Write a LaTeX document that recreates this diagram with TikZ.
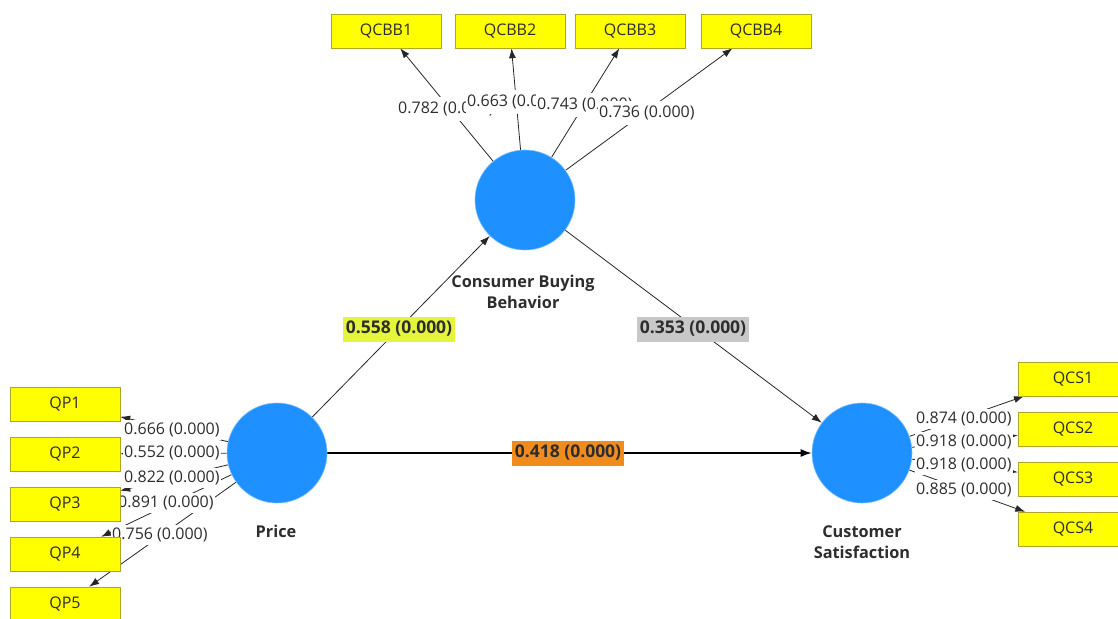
\documentclass[tikz,border=0pt]{standalone}
\usepackage{fontspec}
\setmainfont{Open Sans}
\usetikzlibrary{arrows.meta}
\definecolor{boxyellow}{RGB}{255,255,0}
\definecolor{boxedge}{RGB}{175,165,40}
\definecolor{lvblue}{RGB}{30,144,255}
\definecolor{lvrim}{RGB}{120,190,255}
\definecolor{limec}{RGB}{228,245,60}
\definecolor{grayc}{RGB}{200,200,200}
\definecolor{orangec}{RGB}{240,140,30}
\definecolor{txt}{RGB}{45,45,45}
\pgfdeclarelayer{lines}
\pgfdeclarelayer{labels}
\pgfsetlayers{lines,labels,main}
\begin{document}
\begin{tikzpicture}[x=1pt,y=-1pt,
  ind/.style={draw=boxedge, fill=boxyellow, minimum width=110pt, minimum height=34pt, inner sep=0pt, text=txt, font=\fontsize{16}{18}\selectfont},
  lv/.style={circle, fill=lvblue, draw=lvrim, line width=0.6pt, minimum size=100pt, inner sep=0pt},
  lvname/.style={align=center, text=txt, font=\bfseries\fontsize{16.3}{21}\selectfont},
  load/.style={fill=white, inner xsep=1pt, inner ysep=2.5pt, text=txt, font=\fontsize{16}{18}\selectfont},
  topload/.style={load, inner ysep=4.5pt},
  coef/.style={inner xsep=2.5pt, inner ysep=0pt, minimum height=25pt, text=txt, font=\bfseries\fontsize{17.5}{19}\selectfont},
  arr/.style={-{Latex[length=10pt,width=7pt]}, draw=black!85, line width=0.8pt},
  thickarr/.style={-{Latex[length=11pt,width=8pt]}, draw=black, line width=1.6pt}
]
\useasboundingbox (0,0) rectangle (1118,618);

% latent variables
\node[lv] (cbb) at (525,200) {};
\node[lv] (price) at (277,453) {};
\node[lv] (cs) at (862,453) {};
\node[lvname] (cbbname) at (523,292) {Consumer Buying\\Behavior};
\node[lvname] (pricename) at (276,531) {Price};
\node[lvname] (csname) at (862,542) {Customer\\Satisfaction};

% indicators
\node[ind] (qcbb1) at (386,31) {QCBB1};
\node[ind] (qcbb2) at (510,31) {QCBB2};
\node[ind] (qcbb3) at (630,31) {QCBB3};
\node[ind] (qcbb4) at (756,31) {QCBB4};

\node[ind] (qp1) at (65,404) {QP1};
\node[ind] (qp2) at (65,454) {QP2};
\node[ind] (qp3) at (65,504) {QP3};
\node[ind] (qp4) at (65,554) {QP4};
\node[ind] (qp5) at (65,604) {QP5};

\node[ind] (qcs1) at (1073,379) {QCS1};
\node[ind] (qcs2) at (1073,429) {QCS2};
\node[ind] (qcs3) at (1073,479) {QCS3};
\node[ind] (qcs4) at (1073,529) {QCS4};

\begin{pgfonlayer}{lines}
\draw[arr] (cbb) -- (qcbb1);
\draw[arr] (cbb) -- (qcbb2);
\draw[arr] (cbb) -- (qcbb3);
\draw[arr] (cbb) -- (qcbb4);
\draw[arr] (price) -- (qp1);
\draw[arr] (price) -- (qp2);
\draw[arr] (price) -- (qp3);
\draw[arr] (price) -- (qp4);
\draw[arr] (price) -- (qp5);
\draw[arr] (cs) -- (qcs1);
\draw[arr] (cs) -- (qcs2);
\draw[arr] (cs) -- (qcs3);
\draw[arr] (cs) -- (qcs4);
\draw[arr] (price) -- (cbb);
\draw[arr] (cbb) -- (cs);
\draw[thickarr] (price) -- (cs);
\end{pgfonlayer}

\begin{pgfonlayer}{labels}
\node[topload, anchor=west] (l1) at (397,109) {0.782 (0.000)};
\node[topload, anchor=west] (l2) at (466,102) {0.663 (0.000)};
\node[topload, anchor=west] (l3) at (536,105) {0.743 (0.000)};
\node[topload, anchor=west] (l4) at (598,113) {0.736 (0.000)};

\node[load, anchor=west] (p1) at (123,430) {0.666 (0.000)};
\node[load, anchor=west] (p2) at (123,453) {0.552 (0.000)};
\node[load, anchor=west] (p3) at (123,478) {0.822 (0.000)};
\node[load, anchor=west] (p4) at (117,503) {0.891 (0.000)};
\node[load, anchor=west] (p5) at (111,535) {0.756 (0.000)};

\node[load, anchor=west] (c1) at (915,419) {0.874 (0.000)};
\node[load, anchor=west] (c2) at (915,442) {0.918 (0.000)};
\node[load, anchor=west] (c3) at (915,465) {0.918 (0.000)};
\node[load, anchor=west] (c4) at (915,490) {0.885 (0.000)};

\node[coef, fill=limec] (b1) at (399,329) {0.558 (0.000)};
\node[coef, fill=grayc] (b2) at (693,329) {0.353 (0.000)};
\node[coef, fill=orangec] (b3) at (568,453) {0.418 (0.000)};
\end{pgfonlayer}
\end{tikzpicture}
\end{document}
